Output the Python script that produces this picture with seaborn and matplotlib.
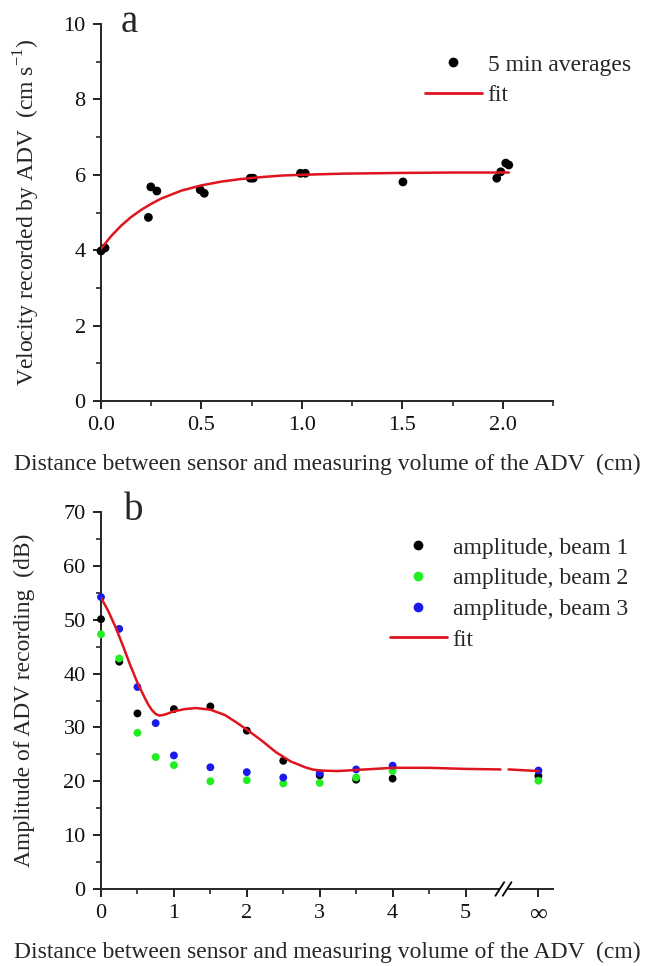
import matplotlib
matplotlib.use("Agg")
import matplotlib.pyplot as plt
from matplotlib.lines import Line2D
from matplotlib.patches import Rectangle
import seaborn as sns

# ── Data ──────────────────────────────────────────────────────────────────────
# panel a: velocity vs sensor distance
dist_a = [0.0, 0.02, 0.236, 0.248, 0.278, 0.494, 0.514, 0.743, 0.758,
          0.993, 1.017, 1.503, 1.97, 1.99, 2.015, 2.03]
vel_a = [3.98, 4.06, 4.87, 5.68, 5.57, 5.60, 5.51, 5.91, 5.91,
         6.04, 6.04, 5.81, 5.91, 6.08, 6.31, 6.26]
fit_a_x = [0, 0.05, 0.1, 0.15, 0.2, 0.25, 0.3, 0.4, 0.5, 0.6, 0.7, 0.8,
           0.9, 1.0, 1.2, 1.5, 1.75, 2.03]
fit_a_y = [4.04, 4.37, 4.65, 4.88, 5.07, 5.23, 5.37, 5.58, 5.72, 5.82, 5.89,
           5.94, 5.98, 6.00, 6.03, 6.05, 6.06, 6.06]

# panel b: amplitude per beam (x = 6 stands for infinity)
beam1_x = [0, 0.25, 0.5, 1, 1.5, 2, 2.5, 3, 3.5, 4, 6]
beam1_y = [50.1, 42.2, 32.6, 33.4, 33.9, 29.4, 23.8, 21.1, 20.3, 20.5, 21.0]
beam_x = [0, 0.25, 0.5, 0.75, 1, 1.5, 2, 2.5, 3, 3.5, 4, 6]
beam2_y = [47.3, 42.8, 29.0, 24.5, 23.0, 20.0, 20.2, 19.6, 19.7, 20.7, 21.9, 20.1]
beam3_y = [54.2, 48.3, 37.5, 30.8, 24.8, 22.6, 21.7, 20.7, 21.5, 22.2, 22.9, 22.0]
fit_b_x = [0, 0.1, 0.2, 0.3, 0.4, 0.5, 0.6, 0.65, 0.7, 0.75, 0.8, 0.85, 0.9,
           1.0, 1.15, 1.3, 1.5, 1.7, 1.85, 2.0, 2.2, 2.4, 2.6, 2.8, 2.9, 3.0,
           3.25, 3.5, 4.0, 4.5, 5.0, 5.48]
fit_b_y = [54.1, 51.6, 48.6, 45.2, 41.6, 38.3, 35.5, 34.2, 33.2, 32.5, 32.2,
           32.3, 32.5, 33.0, 33.4, 33.6, 33.3, 32.3, 31.0, 29.6, 27.6, 25.4,
           23.7, 22.6, 22.2, 22.0, 21.9, 22.1, 22.5, 22.5, 22.3, 22.2]
fit_inf_x = [5.59, 6.0]
fit_inf_y = [22.2, 21.9]

xb_ticks = [0, 1, 2, 3, 4, 5, 6]
xb_labels = ["0", "1", "2", "3", "4", "5", "\u221e"]

# ── Style ─────────────────────────────────────────────────────────────────────
sns.set_style("ticks")
plt.rcParams["font.family"] = ["Liberation Serif", "DejaVu Serif"]
plt.rcParams["mathtext.fontset"] = "custom"
plt.rcParams["mathtext.rm"] = "Liberation Serif"

RED = "#e0141e"
GREEN = "#22ee22"
BLUE = "#1a1aee"
FS = 17
W, H = 647, 966
XLABEL = "Distance between sensor and measuring volume of the ADV  (cm)"

fig = plt.figure(figsize=(W / 100, H / 100), dpi=100)
ax_a = fig.add_axes([101 / W, 1 - 401 / H, 452 / W, 377 / H])
ax_b = fig.add_axes([101 / W, 1 - 889 / H, 452 / W, 377 / H])


def style_axis(ax):
    sns.despine(ax=ax)
    for s in ("left", "bottom"):
        ax.spines[s].set_linewidth(1.4)
    ax.tick_params(which="major", direction="out", length=6, width=1.3,
                   labelsize=16, pad=5, colors="#111111")
    ax.tick_params(which="minor", direction="out", length=3.5, width=1.2)


def legend_kw(x_px, y_px):
    return dict(loc="upper left", bbox_to_anchor=(x_px / W, 1 - y_px / H),
                bbox_transform=fig.transFigure, frameon=False, borderpad=0,
                borderaxespad=0, handlelength=2.4, handletextpad=0.25,
                labelspacing=0.39, fontsize=FS)


# ─── a ────────────────────────────────────────────────────────────────────────
sns.scatterplot(x=dist_a, y=vel_a, color="black", s=40, edgecolor="none",
                ax=ax_a, zorder=3, clip_on=False, legend=False)
sns.lineplot(x=fit_a_x, y=fit_a_y, color=RED, lw=1.8, sort=False,
             estimator=None, ax=ax_a, zorder=4)
ax_a.set_xlim(0, 2.25)
ax_a.set_ylim(0, 10)
ax_a.set_xticks([0, 0.5, 1.0, 1.5, 2.0])
ax_a.set_xticklabels(["0.0", "0.5", "1.0", "1.5", "2.0"])
ax_a.set_xticks([0.25, 0.75, 1.25, 1.75, 2.25], minor=True)
ax_a.set_yticks([0, 2, 4, 6, 8, 10])
ax_a.set_yticks([1, 3, 5, 7, 9], minor=True)
style_axis(ax_a)
ax_a.set_xlabel(XLABEL, fontsize=FS)
ax_a.xaxis.set_label_coords(0.5, -0.14)
ax_a.set_ylabel("Velocity recorded by ADV  (cm s$^{\\mathregular{-1}}$)",
                fontsize=FS)
ax_a.yaxis.set_label_coords(-0.13, 0.5)

handles_a = [Line2D([], [], ls="none", marker="o", color="black", markersize=6),
             Line2D([], [], color=RED, lw=2)]
ax_a.legend(handles_a, ["5 min averages", "fit"], **legend_kw(425, 54))
fig.text(121 / W, 1 - 32 / H, "a", fontsize=28, va="baseline")

# ─── b ────────────────────────────────────────────────────────────────────────
sns.scatterplot(x=beam1_x, y=beam1_y, color="black", s=32, edgecolor="none",
                ax=ax_b, zorder=3, clip_on=False, legend=False)
sns.scatterplot(x=beam_x, y=beam2_y, color=GREEN, s=32, edgecolor="none",
                ax=ax_b, zorder=3, clip_on=False, legend=False)
sns.scatterplot(x=beam_x, y=beam3_y, color=BLUE, s=32, edgecolor="none",
                ax=ax_b, zorder=3, clip_on=False, legend=False)
sns.lineplot(x=fit_b_x, y=fit_b_y, color=RED, lw=1.8, sort=False,
             estimator=None, ax=ax_b, zorder=4)
sns.lineplot(x=fit_inf_x, y=fit_inf_y, color=RED, lw=1.8, sort=False,
             estimator=None, ax=ax_b, zorder=4)
ax_b.set_xlim(0, 6.2)
ax_b.set_ylim(0, 70)
ax_b.set_xticks(xb_ticks)
ax_b.set_xticklabels(xb_labels)
ax_b.set_xticks([0.5, 1.5, 2.5, 3.5, 4.5], minor=True)
ax_b.set_yticks(range(0, 71, 10))
ax_b.set_yticks(range(5, 70, 10), minor=True)
style_axis(ax_b)
ax_b.get_xticklabels()[-1].set_fontsize(18)
ax_b.set_xlabel(XLABEL, fontsize=FS)
ax_b.xaxis.set_label_coords(0.5, -0.14)
ax_b.set_ylabel("Amplitude of ADV recording  (dB)", fontsize=FS)
ax_b.yaxis.set_label_coords(-0.146, 0.5)

# axis break marks
trans = ax_b.get_xaxis_transform()
ax_b.add_patch(Rectangle((5.47, -0.02), 0.1, 0.04, transform=trans,
                         color="white", clip_on=False, zorder=4))
for xm in (5.47, 5.57):
    ax_b.plot([xm - 0.06, xm + 0.06], [-0.018, 0.018], transform=trans,
              color="black", lw=1.3, clip_on=False, zorder=5)

handles_b = [Line2D([], [], ls="none", marker="o", color=c, markersize=6)
             for c in ("black", GREEN, BLUE)]
handles_b.append(Line2D([], [], color=RED, lw=2))
ax_b.legend(handles_b, ["amplitude, beam 1", "amplitude, beam 2",
                        "amplitude, beam 3", "fit"], **legend_kw(390, 537))
fig.text(124 / W, 1 - 520 / H, "b", fontsize=28, va="baseline")

fig.savefig("out.png", dpi=100)
